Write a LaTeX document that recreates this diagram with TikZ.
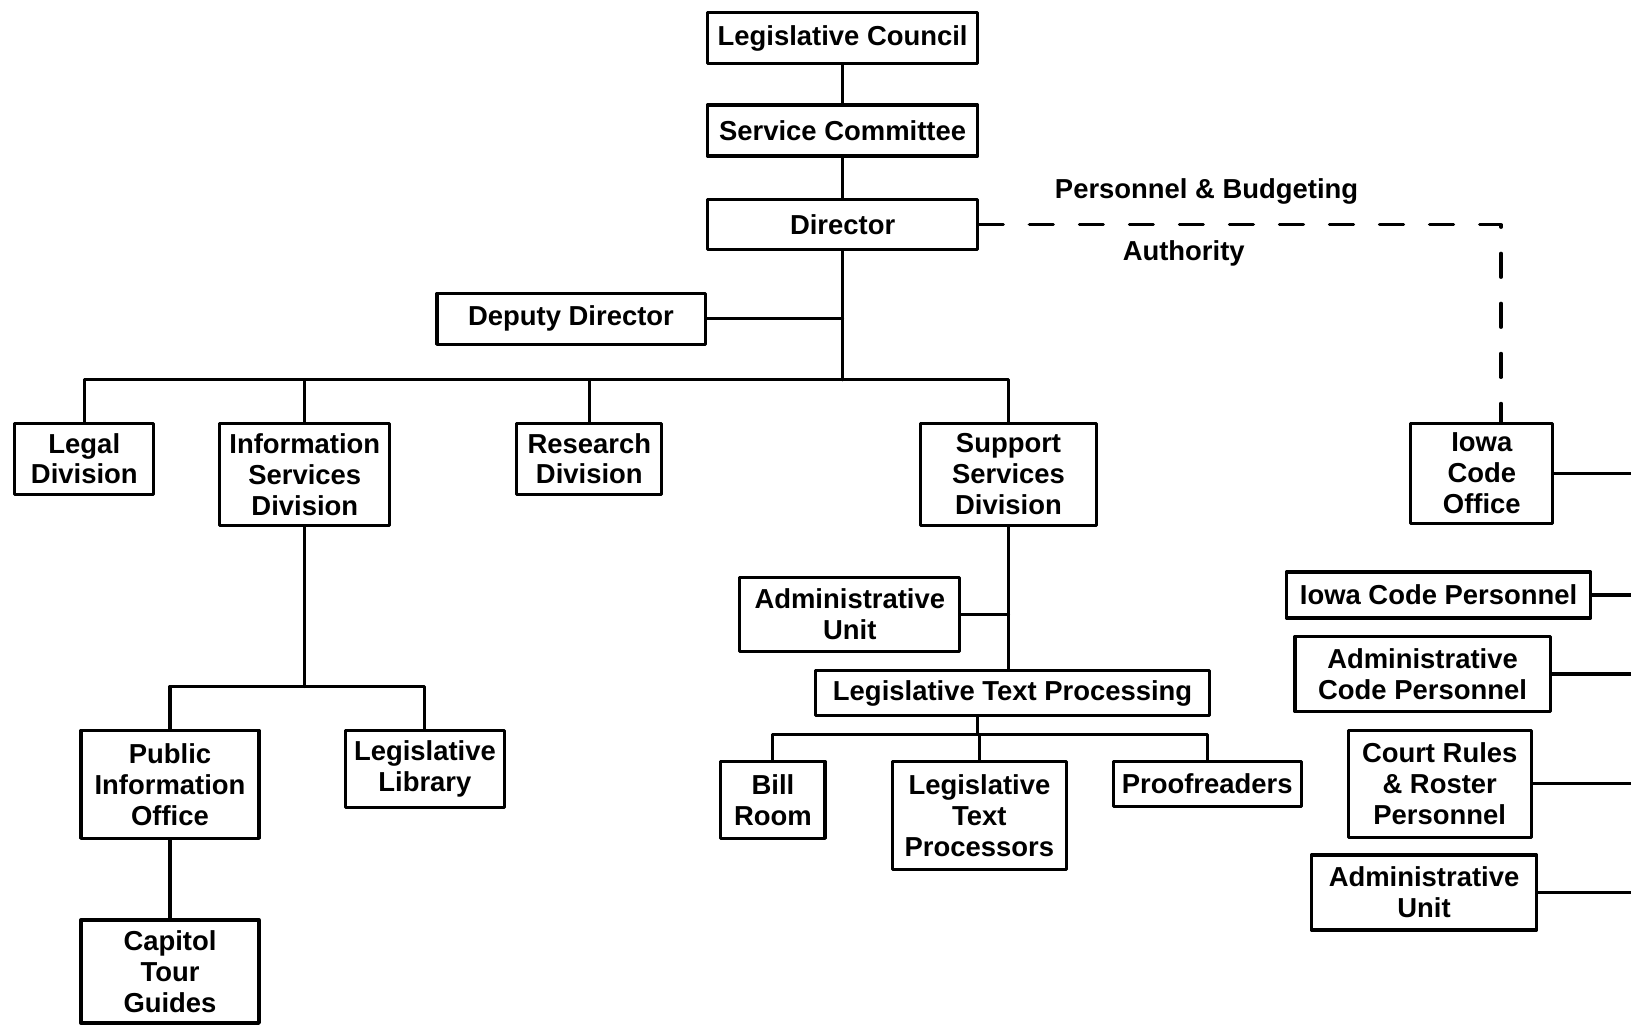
\documentclass[tikz,border=0pt]{standalone}
\usepackage{fontspec}
\setmainfont{Liberation Sans}
\begin{document}
\begin{tikzpicture}[x=0.01cm,y=-0.01cm,font=\bfseries\fontsize{7.8}{8.8}\selectfont,line join=round,line cap=round,
		office/.style={draw,line width=0.9pt,align=center,inner sep=0pt},
		link/.style={line width=0.9pt},
		authority/.style={line width=0.9pt,dash pattern=on 0.24cm off 0.26cm}]
				\useasboundingbox (0,0) rectangle (1631,1027);
				
				% top of the chart
				\node[office,minimum width=2.70cm,minimum height=0.51cm] (council) at (842.6,38) {Legislative Council};
				\node[office,minimum width=2.70cm,minimum height=0.51cm] (committee) at (842.6,130.5) {Service Committee};
				\node[office,minimum width=2.70cm,minimum height=0.50cm] (director) at (842.6,224.7) {Director};
				\node[office,minimum width=2.68cm,minimum height=0.51cm] (deputy) at (571,318.8) {Deputy Director};
				
				% divisions
				\node[office,minimum width=1.39cm,minimum height=0.71cm] (legal) at (84.3,458.7) {Legal\\Division};
				\node[office,minimum width=1.70cm,minimum height=1.02cm] (infoserv) at (304.8,474.4) {Information\\Services\\Division};
				\node[office,minimum width=1.45cm,minimum height=0.71cm] (research) at (589.3,458.7) {Research\\Division};
				\node[office,minimum width=1.76cm,minimum height=1.02cm] (support) at (1008.5,474.4) {Support\\Services\\Division};
				\node[office,minimum width=1.42cm,minimum height=1.00cm] (iowacode) at (1481.8,473.3) {Iowa\\Code\\Office};
				
				% iowa code office
				\node[office,minimum width=3.04cm,minimum height=0.46cm] (iowapers) at (1438.6,595) {Iowa Code Personnel};
				\node[office,minimum width=2.55cm,minimum height=0.75cm] (admincode) at (1422.5,674) {Administrative\\Code Personnel};
				\node[office,minimum width=1.83cm,minimum height=1.07cm] (courtrules) at (1439.7,783.8) {Court Rules\\\& Roster\\Personnel};
				\node[office,minimum width=2.25cm,minimum height=0.75cm] (codeadmin) at (1424,892.5) {Administrative\\Unit};
				
				% information services
				\node[office,minimum width=1.78cm,minimum height=1.08cm] (pubinfo) at (170,784.3) {Public\\Information\\Office};
				\node[office,minimum width=1.59cm,minimum height=0.77cm] (leglib) at (424.9,768.7) {Legislative\\Library};
				\node[office,minimum width=1.78cm,minimum height=1.03cm] (tourguides) at (170,971.5) {Capitol\\Tour\\Guides};
				
				% support services
				\node[office,minimum width=2.20cm,minimum height=0.74cm] (supportadmin) at (849.8,614.3) {Administrative\\Unit};
				\node[office,minimum width=3.94cm,minimum height=0.45cm] (textproc) at (1012.6,693.3) {Legislative Text Processing};
				\node[office,minimum width=1.04cm,minimum height=0.77cm] (billroom) at (772.9,799.9) {Bill\\Room};
				\node[office,minimum width=1.74cm,minimum height=1.08cm] (processors) at (979.4,815.5) {Legislative\\Text\\Processors};
				\node[office,minimum width=1.88cm,minimum height=0.45cm] (proofreaders) at (1207.2,783.8) {Proofreaders};
				
				\coordinate (divbus) at (842.6,379.7);
				\coordinate (infobus) at (304.8,686.5);
				\coordinate (procbus) at (977.8,734.4);
				\coordinate (rightedge) at (1631,0);
				\coordinate (authcorner) at (director.east -| 1501,0);
				
				\draw[link] (council) -- (committee);
				\draw[link] (committee) -- (director);
				\draw[link] (director) -- (divbus);
				\draw[link] (deputy.east) -- (deputy.east -| divbus);
				\draw[link] (legal.north) |- (divbus) -| (support.north);
				\draw[link] (infoserv.north) -- (infoserv.north |- divbus);
				\draw[link] (research.north) -- (research.north |- divbus);
				
				\draw[link] (infoserv) -- (infobus);
				\draw[link] (pubinfo.north) |- (infobus) -| (leglib.north);
				\draw[link] (pubinfo) -- (tourguides);
				
				\draw[link] (support.south) -- (support.south |- textproc.north);
				\draw[link] (supportadmin.east) -- (supportadmin.east -| support.south);
				\draw[link] (textproc.south -| procbus) -- (procbus);
				\draw[link] (billroom.north) |- (procbus) -| (proofreaders.north);
				\draw[link] (processors.north) -- (processors.north |- procbus);
				
				\foreach \n in {iowacode,iowapers,admincode,courtrules,codeadmin}
					\draw[link] (\n.east) -- (\n.east -| rightedge);
				
				\draw[authority] (director.east) -- (authcorner) -- (authcorner |- iowacode.north);
				\node (budgetlabel) at (1206.6,191.4) {Personnel \& Budgeting};
				\node (authlabel) at (1183.7,253.8) {Authority};
			\end{tikzpicture}
\end{document}
